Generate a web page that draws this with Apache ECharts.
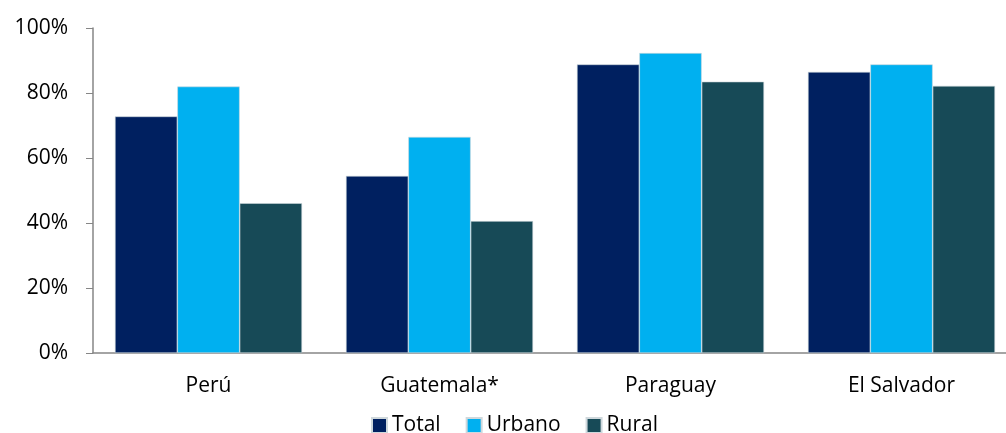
<!DOCTYPE html>
<html lang="es">
<head>
    <meta charset="UTF-8">
    <title>Total / Urbano / Rural</title>
    <style>
        html, body { margin: 0; padding: 0; background: #fff; }
        #chart { width: 1006px; height: 433px; }
    </style>
</head>
<body>
<div id="chart"></div>
<script src="https://cdn.jsdelivr.net/npm/echarts@6/dist/echarts.min.js"></script>
<script type="text/javascript">
    const countries = ['Perú', 'Guatemala*', 'Paraguay', 'El Salvador'];
    const total = [72.8, 54.5, 88.8, 86.5];
    const urbano = [82.0, 66.5, 92.3, 88.8];
    const rural = [46.1, 40.6, 83.5, 82.2];
    const yTicks = [0, 20, 40, 60, 80, 100];

    const chart = echarts.init(document.getElementById('chart'));
    const font = 'Open Sans';

    function bar(name, data, color) {
        return {
            name: name,
            type: 'bar',
            data: data,
            barGap: '0%',
            barCategoryGap: '19%',
            itemStyle: { color: color, borderColor: '#cfd8dc', borderWidth: 0.6 }
        };
    }

    chart.setOption({
        animation: false,
        textStyle: { fontFamily: font },
        // the source cuts the last category off at the right edge
        grid: { left: 93, width: 924, top: 28, height: 325, outerBoundsMode: 'none', containLabel: false },
        legend: {
            top: 410,
            left: 366,
            itemWidth: 15,
            itemHeight: 15,
            itemGap: 25,
            icon: 'rect',
            textStyle: { fontFamily: font, fontSize: 21, color: '#000' }
        },
        xAxis: {
            type: 'category',
            data: countries,
            axisLine: { lineStyle: { color: '#868686', width: 1.5 } },
            axisTick: { length: 7, lineStyle: { color: '#868686' } },
            axisLabel: { color: '#000', fontSize: 21, margin: 23 }
        },
        yAxis: {
            type: 'value',
            min: 0,
            max: yTicks[yTicks.length - 1],
            interval: yTicks[1] - yTicks[0],
            splitLine: { show: false },
            axisLine: { show: true, lineStyle: { color: '#868686', width: 1.5 } },
            axisTick: { show: true, length: 7, lineStyle: { color: '#868686' } },
            axisLabel: { color: '#000', fontSize: 21, margin: 25, formatter: '{value}%' }
        },
        series: [
            bar('Total', total, '#002060'),
            bar('Urbano', urbano, '#00b0f0'),
            bar('Rural', rural, '#174a57')
        ]
    });
</script>
</body>
</html>
